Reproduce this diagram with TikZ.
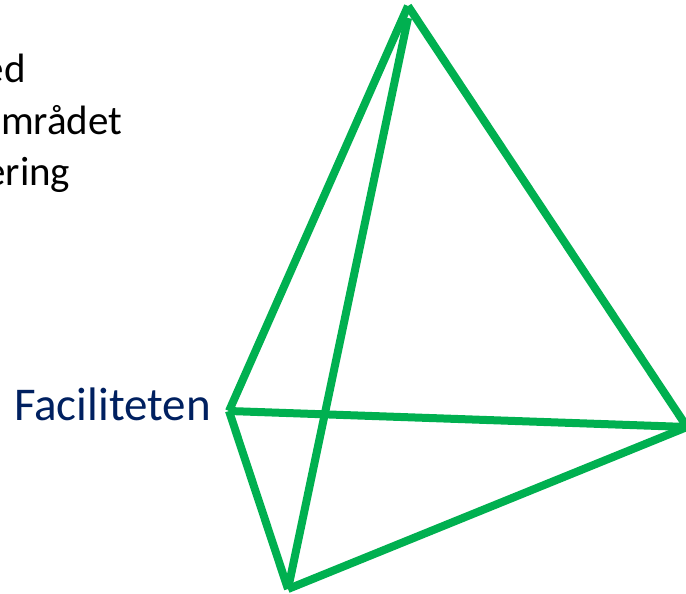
\documentclass[tikz,border=0pt]{standalone}
\usepackage{xcolor}
\usepackage{fontspec}
\setmainfont{Carlito}
\usetikzlibrary{positioning}
\definecolor{EdgeGreen}{HTML}{00B050}
\definecolor{FacilityBlue}{HTML}{002060}
\tikzset{
	edgeline/.style={EdgeGreen,line width=8pt},
	sidetext/.style={anchor=base east,inner sep=0pt,font=\fontsize{41}{48}\selectfont},
}

\begin{document}
\begin{tikzpicture}[x=1pt,y=-1pt]
		\useasboundingbox (0,0) rectangle (686,594);
		% corners of the shape
		\coordinate (top) at (408,6);
		\coordinate (innertop) at (408,18);
		\coordinate (left) at (229,411);
		\coordinate (right) at (687,427);
		\coordinate (bottom) at (288,589);
		% edges
		\draw[edgeline] (left)--(top);
		\draw[edgeline] (top)--(right);
		\draw[edgeline] (innertop)--(bottom);
		\draw[edgeline] (left)--(right);
		\draw[edgeline] (left)--(bottom);
		\draw[edgeline] (bottom)--(right);
		% text
		\node[sidetext] (lineone) at (26,82) {ed};
		\node[sidetext] (linetwo) at (122.5,134) {mrådet};
		\node[sidetext] (linethree) at (70.5,185) {ering};
		\node[sidetext,FacilityBlue,font=\fontsize{47}{54}\selectfont] (facility) at (211,420) {Faciliteten};
	\end{tikzpicture}
\end{document}
